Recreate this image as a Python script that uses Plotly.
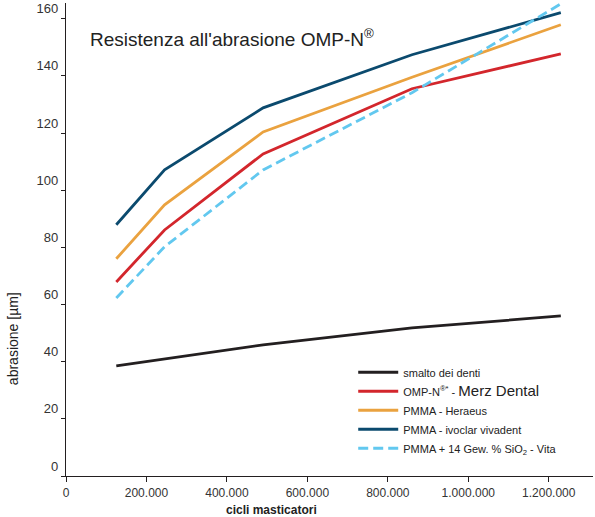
import plotly.graph_objects as go

# data
cicli = [125000, 245000, 490000, 860000, 1230000]
smalto = [38.5, 41.0, 45.9, 51.8, 56.0]
omp_n = [67.9, 86.1, 112.7, 135.5, 147.7]
pmma_heraeus = [76.0, 94.9, 120.4, 139.5, 157.9]
pmma_ivoclar = [87.9, 107.1, 128.8, 147.4, 162.1]
pmma_vita = [62.3, 80.2, 107.1, 134.1, 165.2]

x_tickvals = [0, 200000, 400000, 600000, 800000, 1000000, 1200000]
x_ticktext = ["0", "200.000", "400.000", "600.000", "800.000", "1.000.000", "1.200.000"]
y_tickvals = [0, 20, 40, 60, 80, 100, 120, 140, 160]

series = [
    ("smalto dei denti", smalto, "#231f20", "solid"),
    ("OMP-N<sup>®*</sup> - <span style='font-size:15px'>Merz Dental</span>", omp_n, "#d3262c", "solid"),
    ("PMMA - Heraeus", pmma_heraeus, "#eaa23f", "solid"),
    ("PMMA - ivoclar vivadent", pmma_ivoclar, "#0b4a6e", "solid"),
    ("PMMA + 14 Gew. % SiO<sub>2</sub> - Vita", pmma_vita, "#62c8ef", "10px,5px"),
]

fig = go.Figure()
for name, vals, color, dash in series:
    fig.add_trace(go.Scatter(x=cicli, y=vals, name=name, mode="lines",
                             line=dict(color=color, width=2.8, dash=dash)))

font_family = "Liberation Sans, Arial, sans-serif"
fig.update_layout(
    width=595, height=517,
    margin=dict(l=66, r=2, t=3, b=41),
    paper_bgcolor="white", plot_bgcolor="white",
    font=dict(family=font_family, color="#333333"),
    showlegend=True,
    legend=dict(x=0.545, y=0.25, xanchor="left", yanchor="top",
                font=dict(size=11, color="#222222"), bgcolor="rgba(0,0,0,0)",
                itemwidth=40, tracegroupgap=0),
    xaxis=dict(range=[0, 1310000], tickvals=x_tickvals, ticktext=x_ticktext,
               showgrid=False, zeroline=False, showline=True, linecolor="#231f20",
               linewidth=1.2, ticks="outside", ticklen=5, tickcolor="#231f20",
               tickfont=dict(size=12, color="#333333")),
    yaxis=dict(range=[0, 165.5], tickvals=y_tickvals,
               showgrid=False, zeroline=False, showline=True, linecolor="#231f20",
               linewidth=1.2, ticks="outside", ticklen=4, tickcolor="#231f20",
               ticklabelshift=-10,
               tickfont=dict(size=13, color="#333333")),
    annotations=[
        dict(text="Resistenza all'abrasione OMP-N<sup>®</sup>", xref="paper", yref="paper",
             x=0.042, y=0.926, xanchor="left", yanchor="middle", showarrow=False,
             font=dict(size=19, color="#222222")),
        dict(text="<b>cicli masticatori</b>", xref="paper", yref="paper",
             x=0.39, y=-0.072, xanchor="center", yanchor="middle", showarrow=False,
             font=dict(size=12, color="#222222")),
        dict(text="abrasione [µm]", xref="paper", yref="paper", textangle=-90,
             x=-0.10, y=0.29, xanchor="center", yanchor="middle", showarrow=False,
             font=dict(size=14, color="#222222")),
    ],
)

fig.write_html("out.html", config={"displayModeBar": False},
               post_script="document.body.style.margin='0';document.body.style.padding='0';")
